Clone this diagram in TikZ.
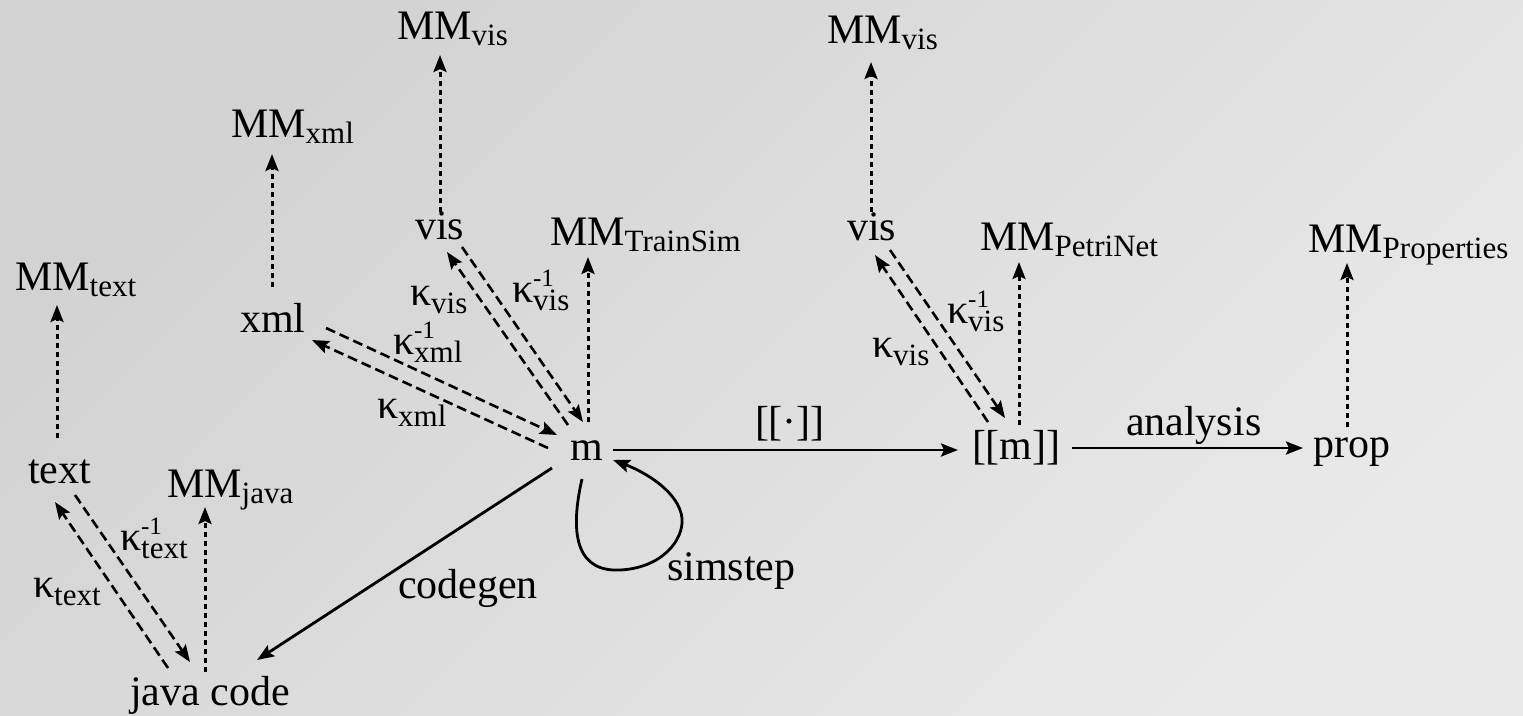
\documentclass[tikz,border=0pt]{standalone}
\usepackage{fontspec}
\setmainfont{Liberation Serif}
\usetikzlibrary{arrows.meta}
\definecolor{bgA}{RGB}{210,210,210}
\definecolor{bgB}{RGB}{233,233,233}
\newcommand\sbs[1]{\raisebox{-6pt}{\fontsize{31}{31}\selectfont #1}}
\newcommand\kap[1]{κ\raisebox{-8pt}{\fontsize{31}{31}\selectfont #1}}
\newcommand\kinv[1]{κ\rlap{\raisebox{15.5pt}{\fontsize{25}{25}\selectfont -1}}\raisebox{-8pt}{\fontsize{31}{31}\selectfont #1}}
\begin{document}
\begin{tikzpicture}[x=1pt,y=-1pt,
  lbl/.style={anchor=base west, inner sep=0pt, outer sep=0pt, font=\fontsize{42}{50}\selectfont},
  tipst/.style={-{Stealth[length=17pt,width=13pt,inset=3pt]}},
  solidarr/.style={tipst, line width=2.8pt},
  dasharr/.style={tipst, line width=2.6pt, dash pattern=on 10pt off 5pt},
  dotarr/.style={tipst, line width=3pt, dash pattern=on 5pt off 4pt}]
\shade[top color=bgA, bottom color=bgB, shading angle=45] (0,0) rectangle (1523,715);
\useasboundingbox (0,0) rectangle (1523,715);

% nodes
\node[lbl] (MMvis1) at (397,39) {MM\sbs{vis}};
\node[lbl] (MMvis2) at (827,43) {MM\sbs{vis}};
\node[lbl] (MMxml) at (231,137) {MM\sbs{xml}};
\node[lbl] (MMtext) at (15,290) {MM\sbs{text}};
\node[lbl] (MMTrainSim) at (550,245) {MM\sbs{TrainSim}};
\node[lbl] (MMjava) at (167,497) {MM\sbs{java}};
\node[lbl] (MMPetriNet) at (980,250) {MM\sbs{PetriNet}};
\node[lbl] (MMProperties) at (1308,252) {MM\sbs{Properties}};
\node[lbl] (vis1) at (415,239) {vis};
\node[lbl] (vis2) at (847,240) {vis};
\node[lbl] (xml) at (240,332) {xml};
\node[lbl] (text) at (28,483) {text};
\node[lbl] (m) at (570,460) {m};
\node[lbl] (mm) at (972,459) {[[m]]};
\node[lbl] (prop) at (1313,457) {prop};
\node[lbl] (java) at (130,705) {java code};

% labels
\node[lbl] (lktext) at (33,597) {\kap{text}};
\node[lbl] (lkitext) at (120,550) {\kinv{text}};
\node[lbl] (lkxml) at (377,418) {\kap{xml}};
\node[lbl] (lkixml) at (393,354) {\kinv{xml}};
\node[lbl] (lkvis1) at (410,305) {\kap{vis}};
\node[lbl] (lkivis1) at (512,302) {\kinv{vis}};
\node[lbl] (lkivis2) at (947,323) {\kinv{vis}};
\node[lbl] (lkvis2) at (872,357) {\kap{vis}};
\node[lbl] (lsem) at (755,435) {[[·]]};
\node[lbl] (lana) at (1126,435) {analysis};
\node[lbl] (lcode) at (398,598) {codegen};
\node[lbl] (lsim) at (667,580) {simstep};

% dotted conformance arrows
\draw[dotarr] ([shift={(440-415,212-239)}]vis1.base west) -- ([shift={(440-397,55-39)}]MMvis1.base west);
\draw[dotarr] ([shift={(871-847,212-240)}]vis2.base west) -- ([shift={(871-827,62-43)}]MMvis2.base west);
\draw[dotarr] ([shift={(272-240,287-332)}]xml.base west) -- ([shift={(272-231,154-137)}]MMxml.base west);
\draw[dotarr] ([shift={(57-28,438-483)}]text.base west) -- ([shift={(57-15,305-290)}]MMtext.base west);
\draw[dotarr] ([shift={(588-570,422-460)}]m.base west) -- ([shift={(588-550,257-245)}]MMTrainSim.base west);
\draw[dotarr] ([shift={(205-130,672-705)}]java.base west) -- ([shift={(205-167,507-497)}]MMjava.base west);
\draw[dotarr] ([shift={(1019-972,425-459)}]mm.base west) -- ([shift={(1019-980,262-250)}]MMPetriNet.base west);
\draw[dotarr] ([shift={(1347-1313,427-457)}]prop.base west) -- ([shift={(1347-1308,263-252)}]MMProperties.base west);

% dashed kappa arrows
\draw[dasharr] ([shift={(168-130,668-705)}]java.base west) -- ([shift={(55-28,502-483)}]text.base west);
\draw[dasharr] ([shift={(75-28,495-483)}]text.base west) -- ([shift={(190-130,662-705)}]java.base west);
\draw[dasharr] ([shift={(548-570,448-460)}]m.base west) -- ([shift={(312-240,340-332)}]xml.base west);
\draw[dasharr] ([shift={(326-240,328-332)}]xml.base west) -- ([shift={(557-570,435-460)}]m.base west);
\draw[dasharr] ([shift={(568-570,425-460)}]m.base west) -- ([shift={(447-415,252-239)}]vis1.base west);
\draw[dasharr] ([shift={(462-415,247-239)}]vis1.base west) -- ([shift={(583-570,422-460)}]m.base west);
\draw[dasharr] ([shift={(988-972,422-459)}]mm.base west) -- ([shift={(875-847,255-240)}]vis2.base west);
\draw[dasharr] ([shift={(890-847,250-240)}]vis2.base west) -- ([shift={(1005-972,418-459)}]mm.base west);

% solid arrows
\draw[solidarr] ([shift={(613-570,450-460)}]m.base west) -- ([shift={(958-972,450-459)}]mm.base west);
\draw[solidarr] ([shift={(1072-972,448-459)}]mm.base west) -- ([shift={(1303-1313,448-457)}]prop.base west);
\draw[solidarr] ([shift={(552-570,468-460)}]m.base west) -- ([shift={(257-130,660-705)}]java.base west);
\draw[solidarr] ([shift={(12,19)}]m.base west) .. controls (568,540) and (580,572) .. (620,570)
  .. controls (662,568) and (684,540) .. (682,518)
  .. controls (679,492) and (645,472) .. ([shift={(43,0)}]m.base west);
\end{tikzpicture}
\end{document}
